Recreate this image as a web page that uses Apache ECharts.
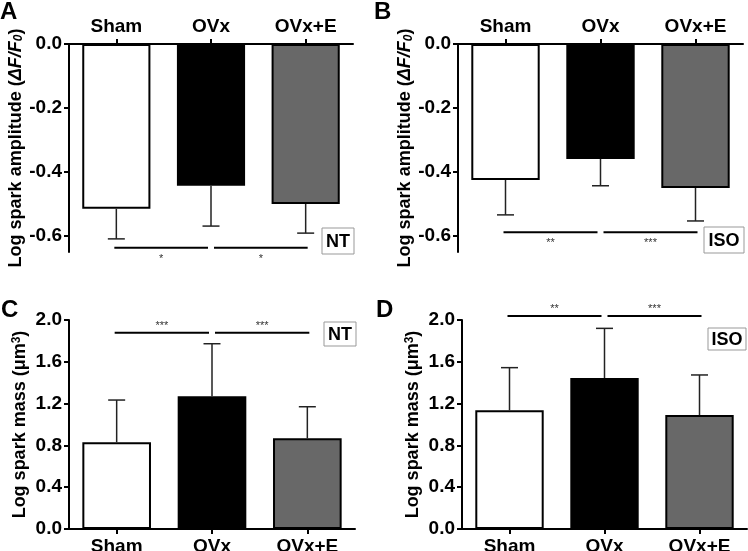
<!DOCTYPE html>
<html>
<head>
<meta charset="utf-8">
<script src="https://cdn.jsdelivr.net/npm/echarts@6/dist/echarts.min.js"></script>
<style>
html,body{margin:0;padding:0;background:#fff;}
#chart{width:748px;height:551px;}
</style>
</head>
<body>
<div id="chart"></div>
<script>
// ---- data ----
const categories = ['Sham', 'OVx', 'OVx+E'];

const ampNT = [-0.515, -0.443, -0.500];
const ampNTsd = [0.094, 0.126, 0.091];
const ampISO = [-0.425, -0.359, -0.450];
const ampISOsd = [0.109, 0.084, 0.103];

const massNT = [0.830, 1.270, 0.868];
const massNTsd = [0.404, 0.503, 0.302];
const massISO = [1.136, 1.445, 1.090];
const massISOsd = [0.408, 0.475, 0.384];

const ampTicks = [0, -0.2, -0.4, -0.6];
const massTicks = [0, 0.4, 0.8, 1.2, 1.6, 2.0];

const sigPairs = [[0, 1], [1, 2]];
const sigLevelA = -0.637, starsA = ['*', '*'];
const sigLevelB = -0.588, starsB = ['**', '***'];
const sigLevelC = 1.878, starsC = ['***', '***'];
const sigLevelD = 2.038, starsD = ['**', '***'];

// ---- styles ----
const FONT = '"Liberation Sans", Arial, Helvetica, sans-serif';
const barColors = ['#ffffff', '#000000', '#686868'];

const chart = echarts.init(document.getElementById('chart'));

const labelStyle = {fontFamily: FONT, fontSize: 19, fontWeight: 'bold', color: '#000'};

function xAxis(gi, top) {
  return {
    gridIndex: gi, type: 'category', data: categories,
    position: top ? 'top' : 'bottom',
    axisLine: {show: true, onZero: false, lineStyle: {color: '#000', width: 2}},
    axisTick: {show: true, alignWithLabel: true, length: 5, lineStyle: {color: '#000', width: 2}},
    axisLabel: Object.assign({margin: 8}, labelStyle),
    splitLine: {show: false}
  };
}

function yAxisAmp(gi, gap) {
  return {
    gridIndex: gi, type: 'value', min: -0.65, max: 0,
    axisLine: {show: true, lineStyle: {color: '#000', width: 2}},
    axisTick: {show: true, length: 5, customValues: ampTicks, lineStyle: {color: '#000', width: 2}},
    axisLabel: Object.assign({margin: 7, customValues: ampTicks, formatter: v => v.toFixed(1)}, labelStyle),
    splitLine: {show: false},
    name: 'Log spark amplitude ({it|ΔF/F}{sub|0})',
    nameLocation: 'middle', nameGap: gap,
    nameTextStyle: {
      fontFamily: FONT, fontSize: 18, fontWeight: 'bold', color: '#000',
      rich: {
        it: {fontFamily: FONT, fontSize: 18, fontWeight: 'bold', fontStyle: 'italic', color: '#000'},
        sub: {fontFamily: FONT, fontSize: 12, fontWeight: 'bold', fontStyle: 'italic', color: '#000', verticalAlign: 'bottom'}
      }
    }
  };
}

function yAxisMass(gi, gap) {
  return {
    gridIndex: gi, type: 'value', min: 0, max: 2, interval: 0.4,
    axisLine: {show: true, lineStyle: {color: '#000', width: 2}},
    axisTick: {show: true, length: 5, lineStyle: {color: '#000', width: 2}},
    axisLabel: Object.assign({margin: 7, formatter: v => v.toFixed(1)}, labelStyle),
    splitLine: {show: false},
    name: 'Log spark mass (μm{sup|3})',
    nameLocation: 'middle', nameGap: gap,
    nameTextStyle: {
      fontFamily: FONT, fontSize: 18, fontWeight: 'bold', color: '#000',
      rich: {
        sup: {fontFamily: FONT, fontSize: 12, fontWeight: 'bold', color: '#000', verticalAlign: 'top'}
      }
    }
  };
}

function barSeries(gi, values) {
  return {
    type: 'bar', xAxisIndex: gi, yAxisIndex: gi, barWidth: '72%',
    data: values.map((v, i) => ({value: v, itemStyle: {color: barColors[i]}})),
    itemStyle: {borderColor: '#000', borderWidth: 2},
    emphasis: {disabled: true}, silent: true, z: 2
  };
}

function errSeries(gi, values, sds) {
  return {
    type: 'custom', xAxisIndex: gi, yAxisIndex: gi, clip: false, silent: true, z: 3,
    encode: {x: 0, y: 1},
    data: values.map((v, i) => [i, v, sds[i]]),
    renderItem: function (params, api) {
      const i = api.value(0), m = api.value(1), s = api.value(2);
      const dir = m < 0 ? -1 : 1;
      const p0 = api.coord([i, m]);
      const p1 = api.coord([i, m + dir * s]);
      const st = {stroke: '#222', lineWidth: 1.5};
      return {type: 'group', children: [
        {type: 'line', shape: {x1: p0[0], y1: p0[1], x2: p1[0], y2: p1[1]}, style: st},
        {type: 'line', shape: {x1: p1[0] - 8.5, y1: p1[1], x2: p1[0] + 8.5, y2: p1[1]}, style: st}
      ]};
    }
  };
}

function sigSeries(gi, level, stars, below) {
  return {
    type: 'custom', xAxisIndex: gi, yAxisIndex: gi, clip: false, silent: true, z: 4,
    encode: {x: [0, 1], y: 2},
    data: sigPairs.map(p => [p[0], p[1], level]),
    renderItem: function (params, api) {
      const a = api.value(0), b = api.value(1), y = api.value(2);
      const pa = api.coord([a, y]);
      const pb = api.coord([b, y]);
      const x1 = pa[0] + (a === 0 ? -2 : 3);
      const x2 = pb[0] + (b === 2 ? 2 : -3);
      const ty = pa[1] + (below ? 11 : -7);
      return {type: 'group', children: [
        {type: 'line', shape: {x1: x1, y1: pa[1], x2: x2, y2: pa[1]}, style: {stroke: '#000', lineWidth: 2}},
        {type: 'text', style: {text: stars[params.dataIndex], x: (x1 + x2) / 2, y: ty,
          align: 'center', verticalAlign: 'middle', fontFamily: FONT, fontSize: 11, fill: '#333'}}
      ]};
    }
  };
}

function boxLabel(text, x, y, w, h) {
  return {type: 'group', children: [
    {type: 'rect', shape: {x: x, y: y, width: w, height: h}, style: {fill: '#fff', stroke: '#999', lineWidth: 1}},
    {type: 'text', style: {text: text, x: x + w / 2, y: y + h / 2 + 1, align: 'center', verticalAlign: 'middle',
      fontFamily: FONT, fontSize: 18, fontWeight: 'bold', fill: '#000'}}
  ]};
}

function letter(t, x, y) {
  return {type: 'text', style: {text: t, x: x, y: y, fontFamily: FONT, fontSize: 24, fontWeight: 'bold', fill: '#000'}};
}

const option = {
  animation: false,
  backgroundColor: '#fff',
  grid: [
    {left: 69, top: 44, width: 284, height: 208, outerBoundsMode: 'none', containLabel: false},
    {left: 458, top: 44, width: 285, height: 208, outerBoundsMode: 'none', containLabel: false},
    {left: 69, top: 320, width: 286, height: 209, outerBoundsMode: 'none', containLabel: false},
    {left: 462, top: 320, width: 285, height: 209, outerBoundsMode: 'none', containLabel: false}
  ],
  xAxis: [xAxis(0, true), xAxis(1, true), xAxis(2, false), xAxis(3, false)],
  yAxis: [yAxisAmp(0, 44), yAxisAmp(1, 36), yAxisMass(2, 40), yAxisMass(3, 40)],
  series: [
    barSeries(0, ampNT), errSeries(0, ampNT, ampNTsd), sigSeries(0, sigLevelA, starsA, true),
    barSeries(1, ampISO), errSeries(1, ampISO, ampISOsd), sigSeries(1, sigLevelB, starsB, true),
    barSeries(2, massNT), errSeries(2, massNT, massNTsd), sigSeries(2, sigLevelC, starsC, false),
    barSeries(3, massISO), errSeries(3, massISO, massISOsd), sigSeries(3, sigLevelD, starsD, false)
  ],
  graphic: [
    letter('A', 0, 0), letter('B', 374, 0), letter('C', 1, 298), letter('D', 376, 298),
    boxLabel('NT', 322, 228, 32, 26),
    boxLabel('ISO', 704, 227, 40, 26),
    boxLabel('NT', 324, 322, 32, 24),
    boxLabel('ISO', 708, 328, 38, 22)
  ]
};
chart.setOption(option);
</script>
</body>
</html>
